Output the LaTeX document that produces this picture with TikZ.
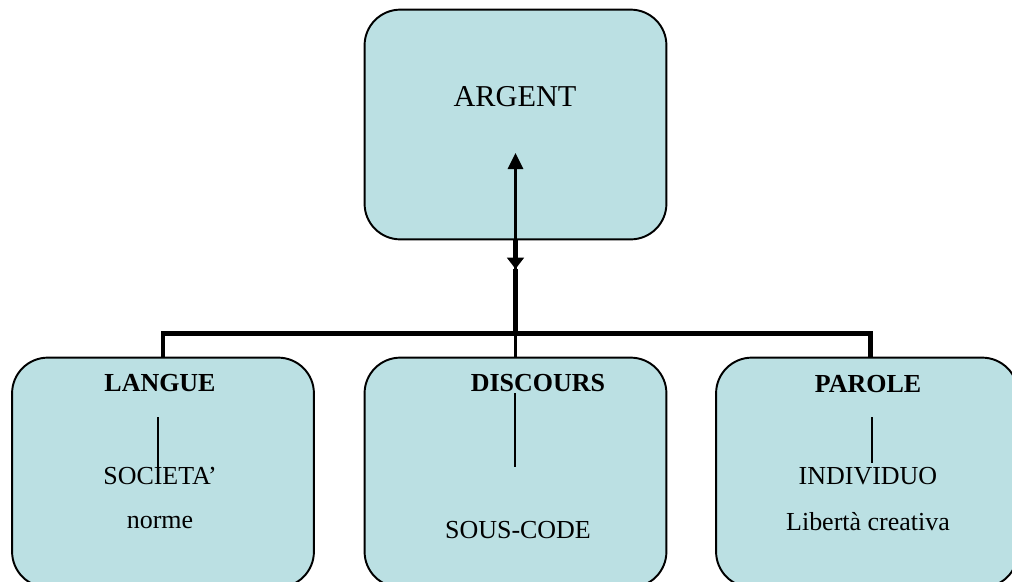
\documentclass[tikz,border=0pt]{standalone}
\usepackage{fontspec}
\setmainfont{Liberation Serif}
\usetikzlibrary{arrows.meta}
\definecolor{boxfill}{RGB}{187,224,227}

\begin{document}
\begin{tikzpicture}[x=0.01623cm, y=-0.01623cm,
  box/.style={draw=black, line width=0.9pt, fill=boxfill, rounded corners=16.5pt,
    minimum width=4.9cm, minimum height=3.73cm, inner sep=0pt},
  bigtxt/.style={font=\fontsize{14}{17}\selectfont},
  head/.style={font=\fontsize{12}{14}\selectfont\bfseries},
  txt/.style={font=\fontsize{12}{14}\selectfont}]
\useasboundingbox (0,0) rectangle (1012,582);
\node[box] (argent) at (515.5,124.5) {};
\node[box] (langue) at (163,472.5) {};
\node[box] (discours) at (515.5,472.5) {};
\node[box] (parole) at (867,472.5) {};
\node[bigtxt] (argenttxt) at (515,97) {ARGENT};
\node[head] (languetxt) at (160,383) {LANGUE};
\node[txt] (societa) at (160,476) {SOCIETA’};
\node[txt] (norme) at (160,522) {norme};
\node[head] (discourstxt) at (538,383) {DISCOURS};
\node[txt] (souscode) at (518,530) {SOUS-CODE};
\node[head] (paroletxt) at (868,384) {PAROLE};
\node[txt] (individuo) at (868,476) {INDIVIDUO};
\node[txt] (liberta) at (868,522) {Libertà creativa};
\coordinate (argtip) at (515.5,153);
\coordinate (downtip) at (515.5,269);
\coordinate (bar) at (515.5,332);
\coordinate (l1) at (158,417);
\coordinate (l2) at (158,473);
\coordinate (d1) at (515,393);
\coordinate (d2) at (515,467);
\coordinate (p1) at (872,417);
\coordinate (p2) at (872,463);
% fleches
\draw[line width=1.1pt, -{Triangle[length=7.4pt,width=7pt]}] (bar) -- (argtip);
\draw[line width=2.3pt, -{Triangle[length=5.2pt,width=7.6pt]}] (argent.south) -- (downtip);
\draw[line width=2.3pt] (downtip) -- (bar);
\draw[line width=2.3pt] (langue.north) -- ++(0,-23) -| ([xshift=1.5pt]parole.north);
\draw[line width=1.8pt] (bar) -- (discours.north);
\draw[line width=0.6pt] (l1) -- (l2);
\draw[line width=0.6pt] (d1) -- (d2);
\draw[line width=0.6pt] (p1) -- (p2);
\end{tikzpicture}
\end{document}
